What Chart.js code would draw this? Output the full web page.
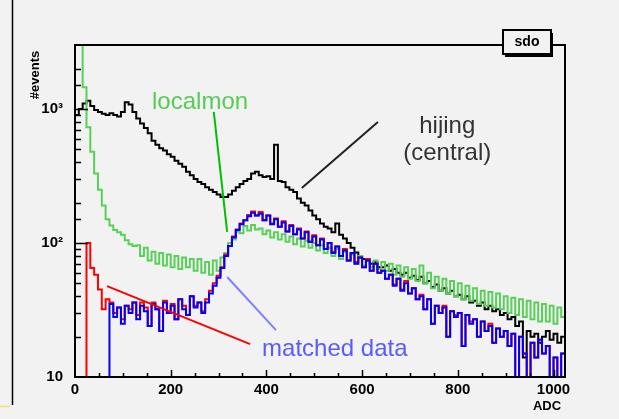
<!DOCTYPE html>
<html><head><meta charset="utf-8">
<script src="https://cdn.jsdelivr.net/npm/chart.js@4.4.0/dist/chart.umd.min.js"></script>
<style>html,body{margin:0;padding:0;background:#f2f2f2;}canvas{display:block;}</style>
</head><body>
<canvas id="c" width="619" height="419"></canvas>
<script>
// ---- data (ADC histograms, 8-ADC bins starting at 0) ----
const binWidth = 8;
const xRange = [0, 1024];
const yRange = [10, 3000];
const baseline = 10;

const hijing = [
  900,1000,1100,1150,1050,980,950,920,900,930,900,880,950,1120,1080,950,
  850,780,720,660,580,540,510,490,460,440,410,390,370,340,320,300,
  285,275,260,250,240,230,220,220,230,245,260,275,290,300,330,340,
  320,310,315,300,540,290,285,260,250,240,215,200,190,175,160,150,
  140,132,128,120,140,115,108,100,92,85,80,76,74,70,72,66,
  66,68,62,64,60,58,60,55,57,53,56,50,52,47,49,44,
  46,42,44,40,41,38,40,36,37,34,36,32,34,31,32,29,
  30,27,28,24,26,14,22,20,21,18,20,22,19,21,18,20
];
const localmon = [
  30000,30000,1450,730,480,330,250,190,150,135,125,120,115,105,98,95,
  96,80,92,74,86,70,84,68,82,66,80,64,78,66,76,62,
  76,60,72,58,74,62,78,84,100,106,122,118,134,124,136,126,
  128,116,124,110,120,106,116,102,112,98,108,94,104,92,100,88,
  96,84,92,80,90,76,86,74,82,70,80,68,76,66,74,64,
  72,62,70,58,68,56,66,54,64,52,68,50,60,46,56,44,
  54,42,52,40,50,38,48,37,46,35,44,34,43,33,42,32,
  40,30,39,29,38,28,37,27,36,26,35,26,34,25,33,28
];
const matchedRed = [
  10,10,10,100,65,58,45,32,38,36,30,33,27,34,32,36,
  29,36,33,24,36,32,22,37,30,35,27,38,34,29,40,34,
  36,31,38,44,50,57,66,82,95,112,126,140,148,162,172,160,
  170,148,160,140,152,132,145,122,136,116,128,108,122,102,114,96,
  108,90,100,86,94,80,90,74,84,72,78,66,76,62,70,60,
  62,54,58,49,54,45,52,42,46,38,41,32,38,25,34,30,
  34,20,31,29,30,17,29,26,27,20,26,22,25,18,23,20,
  22,17,21,10,20,15,10,18,14,19,15,17,10,14,10,15
];
const matchedBlue = [
  10,10,10,10,10,10,10,10,10,35,28,33,25,34,30,36,
  27,34,31,24,35,32,22,36,30,34,27,38,32,29,40,33,
  36,30,36,42,48,55,65,80,95,110,125,138,148,158,168,160,
  165,148,160,138,150,132,142,122,134,116,126,108,120,102,112,96,
  106,90,100,84,94,80,88,74,84,70,78,66,74,62,70,60,
  62,54,58,48,54,44,50,42,46,38,40,32,38,25,34,30,
  33,20,31,28,30,17,29,25,27,20,26,22,24,18,23,20,
  22,17,21,10,20,15,10,18,14,19,15,17,10,14,10,15
];

const xMajorTicks = [0, 200, 400, 600, 800, 1000];
const yTickLabels = {10: '10', 100: '10\u00B2', 1000: '10\u00B3'};

// annotations in data coordinates [ADC, count]
const annotationLines = [
  {from: [290, 951], to: [318, 121], color: '#00c000', width: 2},
  {from: [633, 800], to: [474, 257], color: '#222222', width: 2},
  {from: [318, 55.7], to: [420, 22.4], color: '#8080ff', width: 2},
  {from: [67, 47.7], to: [366, 17.6], color: '#ff0000', width: 2}
];
const annotationTexts = [
  {text: 'localmon', at: [161, 1000], color: '#55cc55', align: 'left'},
  {text: 'hijing', at: [778, 662], color: '#333333', align: 'center'},
  {text: '(central)', at: [778, 416], color: '#333333', align: 'center'},
  {text: 'matched data', at: [391, 14.3], color: '#5a5aff', align: 'left'}
];

function histPoints(values) {
  const pts = [{x: xRange[0], y: baseline}];
  values.forEach((v, i) => pts.push({x: xRange[0] + i * binWidth, y: v}));
  pts.push({x: xRange[0] + values.length * binWidth, y: values[values.length - 1]});
  return pts;
}

const FONT = "'Liberation Sans', Arial, sans-serif";

const decor = {
  id: 'decor',
  beforeDraw(chart) {
    const c = chart.ctx;
    c.save();
    c.fillStyle = '#f2f2f2';
    c.fillRect(0, 0, chart.width, chart.height);
    c.strokeStyle = '#000';
    c.lineWidth = 1.5;
    c.beginPath(); c.moveTo(12.5, 0); c.lineTo(12.5, 405); c.stroke();
    c.strokeStyle = '#f0e070';
    c.beginPath(); c.moveTo(0, 406.5); c.lineTo(10, 406.5); c.stroke();
    c.restore();
  },
  afterDatasetsDraw(chart) {
    const c = chart.ctx, a = chart.chartArea;
    const xs = chart.scales.x, ys = chart.scales.y;
    c.save();
    c.strokeStyle = '#000';
    c.lineWidth = 1.5;
    xs.ticks.forEach(t => {
      const v = t.value;
      if (v % 50 !== 0 || v <= xRange[0] || v >= xRange[1]) return;
      const px = Math.round(xs.getPixelForValue(v)) + 0.5;
      const len = (v % 200 === 0) ? 7 : 4;
      c.beginPath(); c.moveTo(px, a.bottom); c.lineTo(px, a.bottom - len); c.stroke();
    });
    ys.ticks.forEach(t => {
      const v = Math.round(t.value);
      if (v <= yRange[0] || v >= yRange[1]) return;
      const py = Math.round(ys.getPixelForValue(v)) + 0.5;
      const major = Math.abs(Math.log10(v) - Math.round(Math.log10(v))) < 1e-6;
      const len = major ? 13 : 6;
      c.beginPath(); c.moveTo(a.left, py); c.lineTo(a.left + len, py); c.stroke();
    });
    c.lineWidth = 2;
    c.strokeRect(a.left, a.top, a.right - a.left, a.bottom - a.top);
    annotationLines.forEach(l => {
      c.strokeStyle = l.color;
      c.lineWidth = l.width;
      c.beginPath();
      c.moveTo(xs.getPixelForValue(l.from[0]), ys.getPixelForValue(l.from[1]));
      c.lineTo(xs.getPixelForValue(l.to[0]), ys.getPixelForValue(l.to[1]));
      c.stroke();
    });
    c.font = '24px ' + FONT;
    c.textBaseline = 'alphabetic';
    annotationTexts.forEach(t => {
      c.fillStyle = t.color;
      c.textAlign = t.align;
      c.fillText(t.text, xs.getPixelForValue(t.at[0]), ys.getPixelForValue(t.at[1]));
    });
    c.restore();
  },
  afterDraw(chart) {
    const c = chart.ctx;
    c.save();
    c.fillStyle = '#000';
    c.fillRect(505, 33, 48, 24);
    c.fillStyle = '#f2f2f2';
    c.fillRect(503, 30, 48, 24);
    c.strokeStyle = '#000';
    c.lineWidth = 2;
    c.strokeRect(503, 30, 48, 24);
    c.fillStyle = '#000';
    c.font = 'bold 14px ' + FONT;
    c.textAlign = 'center';
    c.textBaseline = 'middle';
    c.fillText('sdo', 527, 42);
    c.font = 'bold 13px ' + FONT;
    c.fillText('ADC', 547, 406);
    c.translate(35, 75);
    c.rotate(-Math.PI / 2);
    c.fillText('#events', 0, 0);
    c.restore();
  }
};

const tickFont = {family: FONT, weight: 'bold', size: 15, lineHeight: 1};

new Chart(document.getElementById('c'), {
  type: 'line',
  data: {
    datasets: [
      {label: 'matched (blue)', data: histPoints(matchedBlue), borderColor: '#0000ff', order: 0},
      {label: 'matched (red)', data: histPoints(matchedRed), borderColor: '#ff0000', order: 1},
      {label: 'localmon', data: histPoints(localmon), borderColor: '#58d058', order: 2},
      {label: 'hijing', data: histPoints(hijing), borderColor: '#000000', order: 3}
    ].map(d => Object.assign(d, {stepped: true, borderWidth: 2, pointRadius: 0, fill: false, tension: 0}))
  },
  options: {
    responsive: false,
    animation: false,
    devicePixelRatio: 1,
    layout: {padding: {top: 45, right: 54, left: 0, bottom: 0}},
    plugins: {legend: {display: false}, tooltip: {enabled: false}},
    scales: {
      x: {
        type: 'linear', min: xRange[0], max: xRange[1],
        grid: {display: false}, border: {display: false},
        ticks: {stepSize: 50, includeBounds: false, autoSkip: false, maxRotation: 0, padding: -3, color: '#000', font: tickFont,
          callback: v => xMajorTicks.includes(v) ? String(v) : ''},
        afterFit(s) { s.height = 42; }
      },
      y: {
        type: 'logarithmic', min: yRange[0], max: yRange[1],
        grid: {display: false}, border: {display: false},
        ticks: {autoSkip: false, padding: 4, color: '#000', font: tickFont,
          callback: v => yTickLabels[Math.round(v)] || ''},
        afterFit(s) { s.width = 75; }
      }
    }
  },
  plugins: [decor]
});
</script>
</body></html>
